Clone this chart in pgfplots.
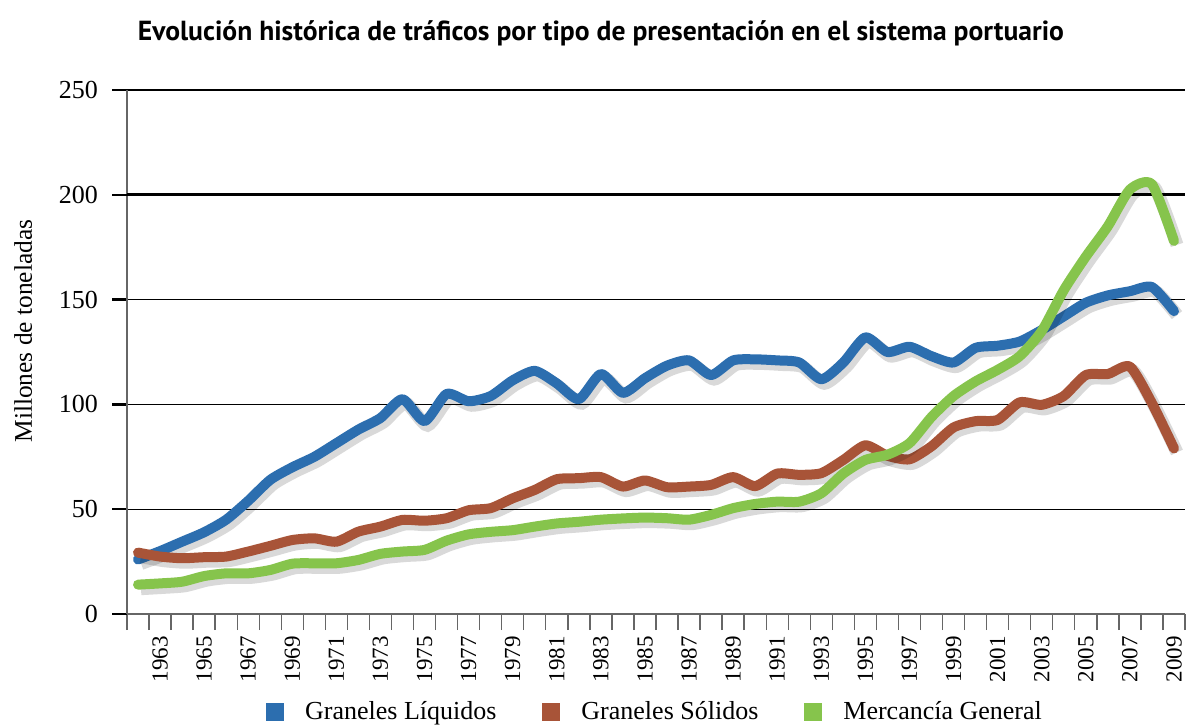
\documentclass[border=0pt]{standalone}
\usepackage{pgfplots}
\pgfplotsset{compat=1.18}
\usepackage{pgfplotstable}
\usepackage{fontspec}
\setmainfont{Liberation Serif}
\newfontfamily\titlefont{PT Sans}
\definecolor{cblue}{RGB}{44,110,175}
\definecolor{cred}{RGB}{168,84,56}
\definecolor{cgreen}{RGB}{134,196,76}
\pgfplotstableread{
year liq sol mer
1962 26 29.3 14
1963 30 27.4 14.6
1964 34.5 26.6 15.4
1965 39 27.1 18.1
1966 45 27.4 19.4
1967 54 29.8 19.4
1968 64 32.5 21
1969 70 35.3 24
1970 75 36.1 24.2
1971 81.5 34.5 24.2
1972 88 39.3 25.8
1973 93.5 41.7 28.7
1974 102.5 44.9 29.8
1975 92 44.5 30.6
1976 105 45.7 35
1977 101.5 49.5 38
1978 104 50.5 39.2
1979 111.5 55.2 40
1980 116 59.2 41.7
1981 110 64.3 43.2
1982 102.5 64.8 44
1983 114.5 65.3 45
1984 105.5 60.8 45.6
1985 112.5 63.7 46
1986 118.5 60.5 45.7
1987 121 60.8 45
1988 114 61.6 47.3
1989 121 65.3 50.5
1990 121.5 61 52.5
1991 121 67 53.6
1992 120 66.4 53.6
1993 112 67.2 57.6
1994 120 73.5 67
1995 132 80.5 73.5
1996 125 75.5 76
1997 127.5 73.8 81.5
1998 123 80 94
1999 120 89 104
2000 127 92 111
2001 128 92.6 116.5
2002 130 101 123
2003 135.5 99.8 135
2004 142 104 154.5
2005 148.5 114 170.5
2006 152 114.5 185
2007 154 118 202.5
2008 156 100.6 205
2009 144.5 79 178
}\datatable
\begin{document}
\begin{tikzpicture}
\useasboundingbox (-63.5pt,-56.5pt) rectangle (530pt,307pt);
\begin{axis}[
  at={(0,0)}, anchor=south west,
  scale only axis,
  width=529pt, height=262pt,
  xmin=1961.5, xmax=2009.5,
  ymin=0, ymax=250,
  axis x line*=bottom, axis y line*=left,
  axis line style={gray!80!black, line width=0.7pt},
  xtick={1963,1965,...,2009},
  minor xtick={1961.5,1962.5,...,2009.5},
  xticklabel style={rotate=90, anchor=east, font=\fontsize{11.5}{12}\selectfont},
  x tick label style={/pgf/number format/1000 sep={}},
  major x tick style={draw=none},
  minor x tick style={gray!80!black, line width=0.7pt},
  minor tick length=8pt,
  ytick={0,50,100,150,250},
  extra y ticks={200},
  extra y tick style={grid style={black, line width=1.4pt}},
  yticklabel style={font=\fontsize{13}{14}\selectfont, xshift=-3.5pt},
  y tick style={black, line width=1.2pt},
  major tick length=7.5pt,
  tick align=outside,
  /pgf/number format/assume math mode=true,
  ymajorgrids,
  grid style={black, line width=0.6pt},
  ylabel={Millones de toneladas},
  ylabel style={at={(axis description cs:-0.098,0.54)}, anchor=center, font=\fontsize{12.7}{14}\selectfont},
  legend columns=3,
  legend style={draw=none, at={(0.5,-0.187)}, anchor=center, font=\fontsize{13}{14}\selectfont,
    /tikz/every even column/.append style={column sep=21pt}},
  legend image code/.code={\fill[#1, draw=none] (0pt,-4.5pt) rectangle (9pt,4.5pt); \path[draw=none, fill=none] (0pt,0pt) rectangle (17.5pt,0.1pt);},
  clip=false,
]
\addplot[forget plot, smooth, tension=0.4, black, opacity=0.15, line width=6.5pt, xshift=1.5pt, yshift=-2pt] table[x=year,y=liq]{\datatable};
\addplot[cblue, smooth, tension=0.4, line width=5pt, line join=round, line cap=round] table[x=year,y=liq]{\datatable};
\addlegendentry{Graneles Líquidos}
\addplot[forget plot, smooth, tension=0.4, black, opacity=0.15, line width=6.5pt, xshift=1.5pt, yshift=-2pt] table[x=year,y=sol]{\datatable};
\addplot[cred, smooth, tension=0.4, line width=5pt, line join=round, line cap=round] table[x=year,y=sol]{\datatable};
\addlegendentry{Graneles Sólidos}
\addplot[forget plot, smooth, tension=0.4, black, opacity=0.15, line width=6.5pt, xshift=1.5pt, yshift=-2pt] table[x=year,y=mer]{\datatable};
\addplot[cgreen, smooth, tension=0.4, line width=5pt, line join=round, line cap=round] table[x=year,y=mer]{\datatable};
\addlegendentry{Mercancía General}
\node[font=\titlefont\bfseries\fontsize{13.8}{15}\selectfont, anchor=center] at (axis description cs:0.448,1.108) {Evolución histórica de tráficos por tipo de presentación en el sistema portuario};
\end{axis}
\end{tikzpicture}
\end{document}
